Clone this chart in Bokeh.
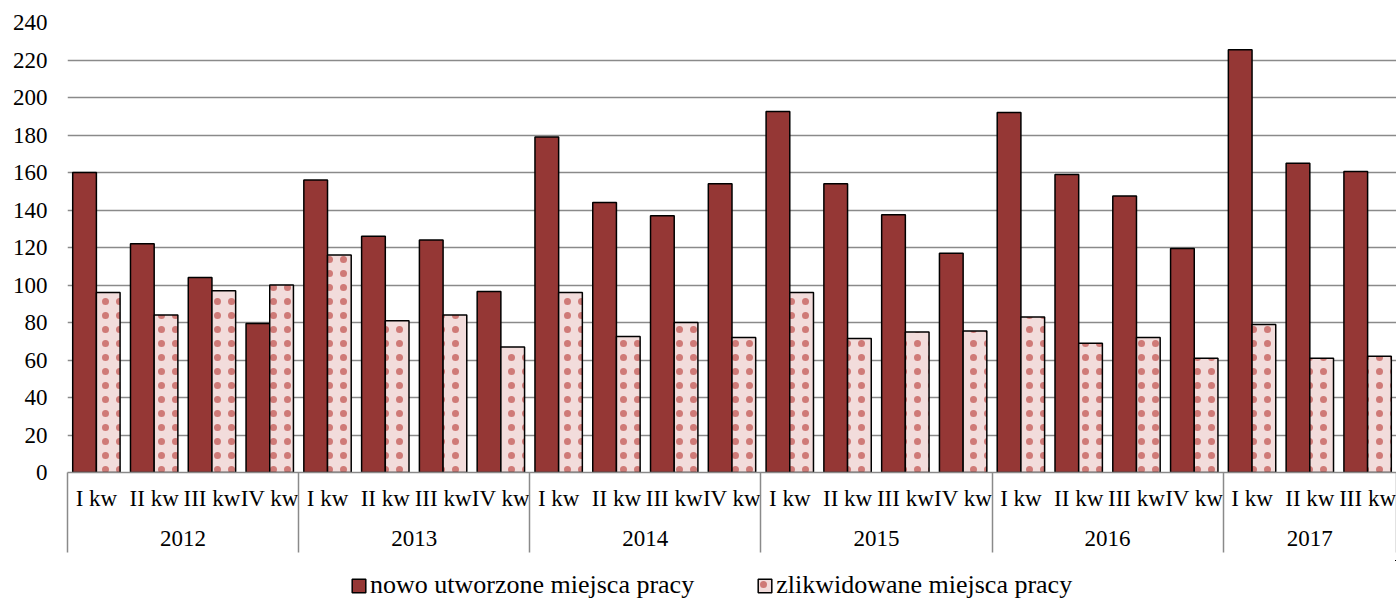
from bokeh.plotting import figure
from bokeh.layouts import column
from bokeh.models import (Range1d, LinearAxis, FixedTicker, Legend,
                          LegendItem, ColumnDataSource)
from bokeh.transform import dodge
from bokeh.embed import file_html
from bokeh.resources import INLINE

# ---- data ----
years = ["2012", "2013", "2014", "2015", "2016", "2017"]
quarters = [
    ["I kw", "II kw", "III kw", "IV kw"],
    ["I kw", "II kw", "III kw", "IV kw"],
    ["I kw", "II kw", "III kw", "IV kw"],
    ["I kw", "II kw", "III kw", "IV kw"],
    ["I kw", "II kw", "III kw", "IV kw"],
    ["I kw", "II kw", "III kw"],
]
new_jobs = [160, 122, 104, 79.5,
            156, 126, 124, 96.5,
            179, 144, 137, 154,
            192.5, 154, 137.5, 117,
            192, 159, 147.5, 119.5,
            225.5, 165, 160.5]
lost_jobs = [96, 84, 97, 100,
             116, 81, 84, 67,
             96, 72.5, 80, 72,
             96, 71.5, 75, 75.5,
             83, 69, 72, 61,
             79, 61, 62]
y_ticks = [0, 20, 40, 60, 80, 100, 120, 140, 160, 180, 200, 220, 240]
series_names = ["nowo utworzone miejsca pracy", "zlikwidowane miejsca pracy"]

# ---- derived: category slots (one unit per quarter) ----
quarter_labels = [q for qs in quarters for q in qs]
n = len(quarter_labels)
centers = [i + 0.5 for i in range(n)]
bounds = [0]
for qs in quarters:
    bounds.append(bounds[-1] + len(qs))
q_labels = {c: q for c, q in zip(centers, quarter_labels)}
y_mid = [(a + b) / 2 for a, b in zip(bounds[:-1], bounds[1:])]
y_labels = {t: y for t, y in zip(y_mid, years)}

FONT = "Liberation Serif"
GRID = "#8a8a8a"
DARK = "#953735"
PINK = "#F2DCDB"
DOT = "#C0504D"

bar1 = dict(fill_color=DARK, line_color="black", line_width=1.5)
bar2 = dict(fill_color=PINK, line_color="black", line_width=1.5,
            hatch_pattern="dot", hatch_color=DOT, hatch_scale=14,
            hatch_weight=0.3, hatch_alpha=0.7)

src = ColumnDataSource(data=dict(x=centers, new=new_jobs, lost=lost_jobs))

p = figure(width=1396, height=560,
           x_range=Range1d(0, n), y_range=Range1d(0, 240),
           x_axis_location=None,
           output_backend="svg", toolbar_location=None,
           min_border_left=67, min_border_right=0, min_border_top=22,
           min_border_bottom=88)
p.outline_line_color = None
p.background_fill_color = "white"
for g in p.xgrid:
    g.grid_line_color = None
for g in p.ygrid:
    g.ticker = FixedTicker(ticks=y_ticks)
    g.grid_line_color = GRID
    g.grid_line_width = 1.5

ya = p.yaxis[0]
ya.ticker = FixedTicker(ticks=y_ticks, minor_ticks=[])
ya.axis_line_color = None
ya.major_tick_line_color = None
ya.minor_tick_line_color = None
ya.major_tick_out = 0
ya.major_tick_in = 0
ya.major_label_standoff = 20
ya.major_label_text_font = FONT
ya.major_label_text_font_size = "23px"
ya.major_label_text_color = "black"

p.vbar(x=dodge("x", -0.205), top="new", width=0.41, source=src, **bar1)
p.vbar(x=dodge("x", 0.205), top="lost", width=0.41, source=src, **bar2)

# quarter labels + axis line
qa = LinearAxis(ticker=FixedTicker(ticks=centers, minor_ticks=[]),
                major_label_overrides=q_labels,
                axis_line_color=GRID, axis_line_width=1.5,
                major_tick_line_color=None, minor_tick_line_color=None,
                major_tick_out=0, major_tick_in=0, major_label_standoff=13,
                major_label_text_font=FONT, major_label_text_font_size="23px",
                major_label_text_color="black")
p.add_layout(qa, "below")

# year labels
ya2 = LinearAxis(ticker=FixedTicker(ticks=y_mid, minor_ticks=[]),
                 major_label_overrides=y_labels,
                 axis_line_color=None,
                 major_tick_line_color=None, minor_tick_line_color=None,
                 major_tick_out=0, major_tick_in=0, major_label_standoff=17,
                 major_label_text_font=FONT, major_label_text_font_size="23px",
                 major_label_text_color="black")
p.add_layout(ya2, "below")

# year separators
sa = LinearAxis(ticker=FixedTicker(ticks=bounds, minor_ticks=[]),
                major_label_overrides={b: "" for b in bounds},
                axis_line_color=None,
                major_tick_line_color=GRID, major_tick_line_width=1.5,
                minor_tick_line_color=None,
                major_tick_out=4, major_tick_in=76, major_label_standoff=0,
                major_label_text_font_size="1px")
p.add_layout(sa, "below")

# ---- legend strip (separate figure below the chart) ----
# same series drawn into ranges that keep them out of view; used only as legend keys
lf = figure(width=1396, height=40, x_range=Range1d(-1000, -999), y_range=Range1d(-2, -1),
            x_axis_location=None, y_axis_location=None,
            output_backend="svg", toolbar_location=None,
            min_border=0, min_border_left=0, min_border_right=0,
            min_border_top=0, min_border_bottom=0)
lf.outline_line_color = None
lf.xgrid.grid_line_color = None
lf.ygrid.grid_line_color = None
l1 = lf.vbar(x=dodge("x", -0.205), top="new", width=0.41, source=src, **bar1)
l2 = lf.vbar(x=dodge("x", 0.205), top="lost", width=0.41, source=src, **bar2)

legend = Legend(items=[LegendItem(label=series_names[0], renderers=[l1]),
                       LegendItem(label=series_names[1], renderers=[l2])],
                orientation="horizontal", location=(283, 0),
                label_text_font=FONT, label_text_font_size="26px",
                label_text_color="black",
                glyph_width=17, glyph_height=17, label_standoff=3,
                spacing=62, padding=0, margin=0,
                border_line_color=None, background_fill_alpha=0)
lf.add_layout(legend, "center")

layout = column(p, lf, spacing=0)
open("out.html", "w").write(file_html(layout, INLINE))
